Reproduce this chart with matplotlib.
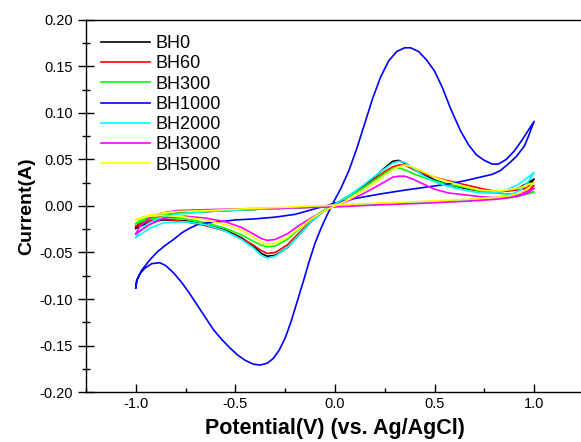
import numpy as np
import matplotlib

matplotlib.use("Agg")
import matplotlib.pyplot as plt
from matplotlib.ticker import MultipleLocator, FormatStrFormatter

plt.rcParams["font.family"] = ["Liberation Sans", "DejaVu Sans"]
plt.rcParams["axes.unicode_minus"] = False

# potential grid, forward branch (with the redox peaks), -1 V -> +1 V
v_peak = [-1.0, -0.93, -0.86, -0.75, -0.65, -0.55, -0.47, -0.41, -0.37, -0.34, -0.30,
          -0.24, -0.18, -0.12, -0.06, 0.0, 0.07, 0.14, 0.20, 0.25, 0.29, 0.32, 0.35,
          0.39, 0.44, 0.50, 0.57, 0.65, 0.73, 0.80, 0.86, 0.92, 0.97, 1.0]
# potential grid, return branch (nearly flat), +1 V -> -1 V
v_flat = [1.0, 0.97, 0.93, 0.88, 0.80, 0.65, 0.45, 0.20, 0.0, -0.20, -0.45, -0.65,
          -0.80, -0.88, -0.94, -0.98, -1.0]

labels = ["BH0", "BH60", "BH300", "BH1000", "BH2000", "BH3000", "BH5000"]
colors = ["#000000", "#ff0000", "#00ff00", "#0000ff", "#00ffff", "#ff00ff", "#ffff00"]

bh0_peak = [-0.024, -0.017, -0.015, -0.016, -0.020, -0.026, -0.034, -0.043, -0.051, -0.054, -0.053,
            -0.045, -0.031, -0.017, -0.006, 0.002, 0.011, 0.021, 0.031, 0.041, 0.048, 0.049, 0.046,
            0.040, 0.034, 0.028, 0.023, 0.019, 0.016, 0.015, 0.016, 0.019, 0.025, 0.029]
bh0_flat = [0.029, 0.020, 0.013, 0.010, 0.008, 0.006, 0.004, 0.002, 0.000, -0.002, -0.004, -0.006,
            -0.008, -0.011, -0.015, -0.020, -0.024]

bh60_peak = [-0.022, -0.016, -0.014, -0.017, -0.021, -0.027, -0.035, -0.042, -0.048, -0.051, -0.050,
             -0.042, -0.029, -0.016, -0.006, 0.002, 0.010, 0.020, 0.029, 0.037, 0.042, 0.044, 0.044,
             0.040, 0.035, 0.031, 0.027, 0.023, 0.019, 0.016, 0.016, 0.017, 0.020, 0.022]
bh60_flat = [0.022, 0.016, 0.012, 0.010, 0.008, 0.006, 0.004, 0.002, 0.000, -0.002, -0.004, -0.006,
             -0.008, -0.011, -0.014, -0.018, -0.022]

bh300_peak = [-0.019, -0.014, -0.012, -0.014, -0.018, -0.024, -0.031, -0.038, -0.042, -0.044, -0.043,
              -0.036, -0.025, -0.014, -0.005, 0.002, 0.010, 0.019, 0.028, 0.035, 0.040, 0.041, 0.039,
              0.035, 0.031, 0.027, 0.023, 0.020, 0.016, 0.014, 0.013, 0.013, 0.014, 0.015]
bh300_flat = [0.015, 0.013, 0.011, 0.009, 0.008, 0.006, 0.004, 0.002, 0.000, -0.002, -0.004, -0.006,
              -0.008, -0.010, -0.013, -0.016, -0.019]

bh2000_peak = [-0.034, -0.024, -0.018, -0.017, -0.020, -0.027, -0.036, -0.045, -0.053, -0.056, -0.054,
               -0.045, -0.031, -0.017, -0.006, 0.002, 0.011, 0.022, 0.032, 0.040, 0.046, 0.048, 0.047,
               0.041, 0.033, 0.026, 0.021, 0.017, 0.014, 0.014, 0.017, 0.023, 0.031, 0.036]
bh2000_flat = [0.036, 0.026, 0.017, 0.012, 0.009, 0.006, 0.004, 0.002, 0.000, -0.002, -0.004, -0.006,
               -0.009, -0.013, -0.019, -0.027, -0.034]

bh3000_peak = [-0.030, -0.020, -0.013, -0.011, -0.013, -0.017, -0.023, -0.030, -0.035, -0.037, -0.036,
               -0.030, -0.021, -0.013, -0.006, 0.000, 0.006, 0.013, 0.020, 0.026, 0.031, 0.032, 0.032,
               0.029, 0.024, 0.018, 0.014, 0.012, 0.010, 0.009, 0.010, 0.012, 0.016, 0.019]
bh3000_flat = [0.019, 0.014, 0.011, 0.009, 0.007, 0.005, 0.003, 0.001, -0.001, -0.002, -0.003, -0.004,
               -0.005, -0.008, -0.014, -0.022, -0.030]

bh5000_peak = [-0.015, -0.011, -0.010, -0.012, -0.015, -0.020, -0.026, -0.033, -0.039, -0.041, -0.040,
               -0.034, -0.024, -0.014, -0.006, 0.000, 0.007, 0.016, 0.025, 0.033, 0.039, 0.042, 0.044,
               0.042, 0.037, 0.031, 0.026, 0.021, 0.017, 0.016, 0.017, 0.019, 0.023, 0.025]
bh5000_flat = [0.025, 0.019, 0.014, 0.011, 0.009, 0.007, 0.005, 0.003, 0.001, -0.001, -0.003, -0.005,
               -0.006, -0.008, -0.010, -0.013, -0.015]

# BH1000 has its own, much larger loop
bh1000_v = [-1.0, -0.995, -0.98, -0.955, -0.92, -0.88, -0.85, -0.81, -0.77, -0.73, -0.69, -0.65,
            -0.61, -0.57, -0.53, -0.49, -0.45, -0.41, -0.375, -0.34, -0.31, -0.28, -0.25, -0.22,
            -0.19, -0.16, -0.13, -0.10, -0.07, -0.04, -0.01, 0.03, 0.07, 0.11, 0.15, 0.19, 0.23,
            0.27, 0.31, 0.35, 0.38, 0.42, 0.46, 0.50, 0.54, 0.58, 0.63, 0.67, 0.71, 0.75, 0.79,
            0.82, 0.86, 0.90, 0.94, 0.97, 1.0,
            0.97, 0.95, 0.91, 0.87, 0.83, 0.79, 0.75, 0.65, 0.55, 0.45, 0.35, 0.23, 0.10, 0.0,
            -0.10, -0.20, -0.30, -0.41, -0.50, -0.58, -0.64, -0.69, -0.73, -0.77, -0.81, -0.85,
            -0.89, -0.93, -0.97, -0.995, -1.0]
bh1000_i = [-0.088, -0.080, -0.073, -0.067, -0.062, -0.061, -0.064, -0.072, -0.082, -0.094, -0.107, -0.120,
            -0.133, -0.143, -0.152, -0.160, -0.166, -0.170, -0.171, -0.169, -0.164, -0.155, -0.142, -0.124,
            -0.103, -0.082, -0.060, -0.040, -0.024, -0.010, 0.003, 0.019, 0.038, 0.062, 0.089, 0.116, 0.139,
            0.156, 0.166, 0.170, 0.170, 0.166, 0.157, 0.145, 0.127, 0.105, 0.081, 0.066, 0.055, 0.049, 0.045,
            0.045, 0.050, 0.059, 0.071, 0.081, 0.091,
            0.074, 0.064, 0.053, 0.045, 0.038, 0.034, 0.032, 0.027, 0.023, 0.020, 0.017, 0.013, 0.008, 0.003,
            -0.003, -0.009, -0.012, -0.014, -0.015, -0.017, -0.018, -0.020, -0.024, -0.029, -0.036, -0.042,
            -0.049, -0.058, -0.069, -0.080, -0.088]

small = {
    "BH0": (bh0_peak, bh0_flat),
    "BH60": (bh60_peak, bh60_flat),
    "BH300": (bh300_peak, bh300_flat),
    "BH2000": (bh2000_peak, bh2000_flat),
    "BH3000": (bh3000_peak, bh3000_flat),
    "BH5000": (bh5000_peak, bh5000_flat),
}

fig = plt.figure(figsize=(5.81, 4.42), dpi=100)
ax = fig.add_axes([0.148, 0.113, 0.857, 0.842])

for name, color in zip(labels, colors):
    if name == "BH1000":
        x, y = bh1000_v, bh1000_i
    else:
        pk, fl = small[name]
        x = np.concatenate([v_peak, v_flat])
        y = np.concatenate([pk, fl])
    ax.plot(x, y, color=color, linewidth=1.2, label=name)

ax.set_xlim(-1.25, 1.25)
ax.set_ylim(-0.20, 0.20)
ax.xaxis.set_major_locator(MultipleLocator(0.5))
ax.xaxis.set_minor_locator(MultipleLocator(0.25))
ax.yaxis.set_major_locator(MultipleLocator(0.05))
ax.yaxis.set_minor_locator(MultipleLocator(0.025))
ax.xaxis.set_major_formatter(FormatStrFormatter("%.1f"))
ax.yaxis.set_major_formatter(FormatStrFormatter("%.2f"))
ax.tick_params(which="both", top=False, right=False, labelsize=10.5)
ax.tick_params(axis="x", which="both", direction="in")
ax.tick_params(axis="x", which="major", length=6, width=1)
ax.tick_params(axis="x", which="minor", length=3, width=1)
ax.tick_params(axis="y", which="both", direction="inout")
ax.tick_params(axis="y", which="major", length=12, width=1)
ax.tick_params(axis="y", which="minor", length=6, width=1)
for sp in ax.spines.values():
    sp.set_linewidth(1.0)

ax.set_xlabel("Potential(V) (vs. Ag/AgCl)", fontsize=15.5, fontweight="bold", labelpad=5)
ax.set_ylabel("Current(A)", fontsize=14, fontweight="bold", labelpad=3)

ax.legend(loc="upper left", bbox_to_anchor=(0.0, 1.0), frameon=False, fontsize=13,
          handlelength=2.7, handletextpad=0.3, labelspacing=0.18, borderaxespad=0.45)

fig.savefig("out.png", dpi=100)
